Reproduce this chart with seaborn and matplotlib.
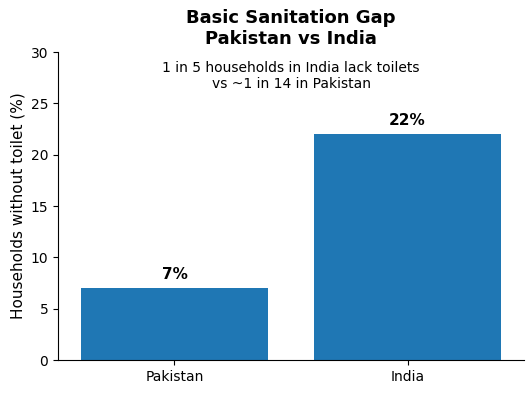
import matplotlib
matplotlib.use("Agg")
import matplotlib.pyplot as plt
import seaborn as sns
import pandas as pd

countries = ["Pakistan", "India"]
no_toilet_pct = [7, 22]
bar_labels = ["7%", "22%"]

df = pd.DataFrame({"country": countries, "pct": no_toilet_pct})

fig = plt.figure(figsize=(5.32, 3.94), dpi=100)
ax = fig.add_axes([0.109, 0.086, 0.876, 0.782])

sns.barplot(data=df, x="country", y="pct", color="#1f77b4", saturation=1, width=0.8, ax=ax)

for i, (v, lab) in enumerate(zip(no_toilet_pct, bar_labels)):
    ax.text(i, v + 0.6, lab, ha="center", va="bottom", fontsize=11, fontweight="bold")

ax.set_ylim(0, 30)
ax.set_xlabel("")
ax.set_ylabel("Households without toilet (%)", fontsize=11)
ax.set_title("Basic Sanitation Gap\nPakistan vs India", fontsize=13, fontweight="bold")
ax.text(0.5, 0.97, "1 in 5 households in India lack toilets\nvs ~1 in 14 in Pakistan",
        transform=ax.transAxes, ha="center", va="top", fontsize=10)
ax.spines["top"].set_visible(False)
ax.spines["right"].set_visible(False)

fig.savefig("out.png", dpi=100)
